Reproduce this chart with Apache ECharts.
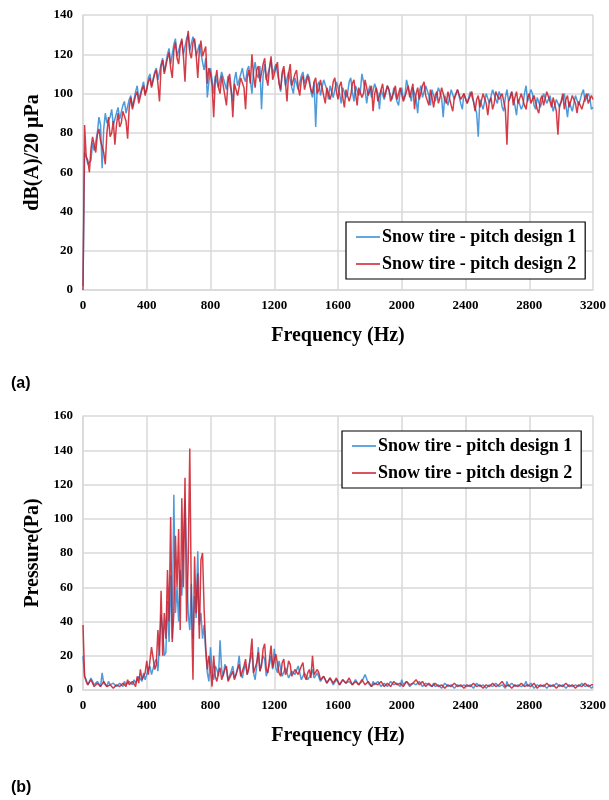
<!DOCTYPE html>
<html>
<head>
<meta charset="utf-8">
<script src="https://cdn.jsdelivr.net/npm/echarts@6/dist/echarts.min.js"></script>
<style>
  html, body { margin: 0; padding: 0; background: #fff; }
  #main { width: 609px; height: 800px; }
</style>
</head>
<body>
<div id="main"></div>
<script>
const freqStep = 10;
const seriesNames = ['Snow tire - pitch design 1', 'Snow tire - pitch design 2'];

// (a) sound level, dB(A)/20 uPa  (one row = 200 Hz)
const splDesign1 = [
  2, 70, 68, 64, 63, 66, 75, 71, 72, 80, 88, 84, 62, 82, 90, 85, 86, 88, 92, 84,
  84, 90, 93, 87, 88, 94, 96, 90, 91, 97, 99, 93, 94, 101, 104, 97, 98, 103, 106, 100,
  102, 108, 110, 104, 105, 111, 113, 107, 108, 115, 118, 111, 112, 120, 123, 115, 116, 125, 128, 119,
  119, 125, 127, 120, 121, 128, 130, 122, 123, 129, 126, 119, 118, 125, 124, 116, 112, 118, 98, 106,
  113, 107, 100, 109, 110, 103, 104, 111, 112, 105, 102, 109, 108, 101, 96, 107, 111, 104, 104, 110,
  113, 108, 106, 112, 114, 107, 100, 111, 116, 110, 108, 114, 92, 109, 115, 107, 106, 113, 117, 110,
  109, 115, 114, 106, 101, 110, 112, 104, 104, 111, 110, 103, 100, 108, 108, 102, 102, 109, 111, 105,
  104, 110, 108, 101, 98, 106, 83, 104, 106, 99, 100, 107, 108, 102, 97, 104, 105, 98, 99, 106,
  107, 100, 95, 103, 104, 98, 100, 106, 108, 101, 96, 104, 105, 99, 101, 110, 109, 102, 95, 101,
  104, 98, 99, 105, 106, 100, 92, 102, 103, 97, 98, 104, 105, 99, 97, 103, 102, 96, 94, 101,
  103, 97, 99, 107, 106, 100, 96, 103, 102, 97, 90, 101, 104, 98, 98, 104, 105, 99, 94, 102,
  101, 96, 97, 103, 104, 98, 88, 99, 100, 94, 95, 102, 103, 97, 97, 102, 101, 95, 92, 100,
  100, 95, 94, 101, 102, 96, 96, 90, 78, 97, 98, 92, 93, 100, 101, 95, 96, 102, 103, 97,
  95, 101, 99, 93, 91, 98, 102, 96, 96, 101, 100, 94, 89, 97, 98, 92, 94, 100, 104, 96,
  96, 102, 100, 94, 92, 98, 99, 93, 94, 100, 101, 95, 95, 99, 98, 91, 90, 97, 97, 93,
  93, 98, 100, 94, 88, 96, 97, 91, 92, 99, 99, 94, 94, 100, 102, 96, 95, 100, 98, 92,
  93
];
const splDesign2 = [
  0, 84, 68, 66, 60, 72, 78, 74, 70, 79, 82, 76, 76, 70, 64, 80, 88, 78, 80, 86,
  74, 84, 90, 83, 85, 91, 92, 86, 77, 93, 98, 92, 93, 99, 101, 95, 96, 102, 104, 99,
  100, 106, 108, 103, 103, 110, 112, 105, 96, 114, 117, 110, 110, 118, 121, 113, 108, 122, 126, 118,
  115, 124, 128, 119, 106, 125, 132, 121, 118, 126, 128, 120, 108, 122, 127, 119, 118, 124, 105, 113,
  110, 104, 88, 107, 112, 103, 100, 109, 108, 99, 94, 106, 110, 102, 88, 105, 106, 99, 100, 108,
  109, 103, 92, 108, 112, 105, 120, 109, 103, 112, 114, 106, 106, 115, 118, 108, 104, 113, 119, 107,
  108, 113, 116, 105, 102, 111, 114, 106, 96, 110, 115, 104, 104, 110, 112, 103, 99, 107, 109, 102,
  103, 109, 110, 102, 100, 106, 108, 100, 102, 107, 106, 99, 95, 103, 104, 97, 100, 106, 108, 101,
  97, 104, 106, 98, 93, 102, 103, 96, 99, 105, 107, 100, 94, 103, 104, 98, 100, 107, 106, 99,
  98, 104, 91, 100, 103, 96, 97, 102, 105, 98, 99, 104, 102, 96, 95, 101, 104, 97, 98, 103,
  102, 96, 96, 101, 104, 98, 99, 105, 92, 100, 103, 97, 97, 104, 106, 99, 100, 94, 102, 98,
  93, 99, 101, 95, 98, 103, 104, 97, 95, 101, 100, 94, 91, 98, 99, 102, 103, 97, 96, 100,
  100, 95, 94, 99, 101, 96, 91, 97, 99, 93, 94, 100, 100, 95, 89, 96, 98, 92, 95, 101,
  102, 97, 96, 100, 100, 92, 74, 96, 98, 101, 94, 98, 101, 95, 95, 100, 99, 94, 92, 98,
  100, 95, 94, 99, 98, 92, 90, 97, 99, 94, 95, 101, 101, 96, 93, 98, 97, 91, 79, 94,
  96, 100, 92, 97, 99, 93, 94, 99, 98, 95, 90, 96, 97, 92, 93, 98, 100, 95, 94, 99,
  97
];

// (b) sound pressure, Pa  (one row = 200 Hz)
const presDesign1 = [
  20, 8, 6, 3, 4, 7, 7, 3, 3, 5, 5, 2, 10, 4, 3, 2, 5, 3, 2, 4,
  4, 2, 2, 4, 3, 2, 5, 3, 2, 5, 4, 3, 6, 4, 3, 8, 7, 5, 10, 6,
  6, 12, 14, 9, 8, 16, 18, 11, 12, 44, 35, 20, 22, 52, 28, 67, 30, 114, 45, 60,
  40, 70, 55, 88, 111, 110, 45, 35, 62, 30, 55, 42, 81, 38, 45, 30, 38, 22, 10, 5,
  25, 10, 6, 14, 12, 8, 29, 12, 8, 15, 12, 6, 5, 11, 14, 7, 9, 13, 20, 9,
  7, 12, 15, 9, 10, 18, 22, 10, 6, 14, 25, 11, 12, 20, 18, 8, 8, 15, 20, 12,
  24, 13, 10, 17, 16, 8, 9, 13, 14, 7, 6, 11, 12, 9, 8, 14, 15, 6, 7, 10,
  11, 6, 5, 9, 12, 7, 6, 10, 9, 5, 4, 8, 8, 4, 5, 7, 7, 3, 3, 6,
  6, 3, 4, 6, 7, 4, 3, 5, 5, 3, 4, 6, 6, 3, 3, 5, 5, 9, 8, 4,
  4, 2, 5, 3, 3, 5, 5, 2, 2, 4, 4, 2, 3, 5, 5, 3, 2, 4, 4, 2,
  6, 3, 3, 5, 4, 2, 2, 4, 5, 3, 3, 5, 4, 2, 2, 4, 5, 3, 3, 2,
  4, 2, 2, 3, 3, 1, 2, 4, 4, 2, 2, 3, 3, 1, 1, 3, 3, 2, 2, 3,
  3, 2, 1, 3, 3, 1, 2, 4, 4, 2, 2, 3, 3, 1, 1, 3, 3, 2, 2, 4,
  4, 2, 2, 3, 3, 1, 5, 2, 2, 4, 3, 2, 2, 3, 4, 2, 2, 3, 5, 2,
  2, 4, 3, 1, 2, 3, 4, 2, 2, 3, 3, 1, 1, 3, 3, 2, 2, 4, 4, 2,
  2, 3, 3, 1, 2, 3, 3, 2, 1, 3, 3, 2, 2, 4, 5, 2, 2, 3, 3, 1,
  2
];
const presDesign2 = [
  38, 8, 5, 3, 3, 6, 6, 2, 2, 4, 4, 2, 3, 5, 5, 2, 2, 3, 3, 1,
  1, 3, 3, 2, 2, 4, 4, 2, 6, 3, 3, 5, 5, 2, 8, 4, 12, 6, 7, 10,
  17, 9, 10, 25, 26, 12, 15, 35, 20, 58, 20, 45, 30, 70, 40, 101, 28, 45, 90, 60,
  94, 35, 112, 60, 124, 40, 75, 141, 50, 6, 78, 45, 68, 30, 76, 80, 47, 25, 12, 20,
  12, 2, 20, 8, 5, 10, 13, 6, 7, 12, 14, 5, 4, 9, 11, 6, 6, 12, 15, 8,
  8, 14, 18, 9, 12, 20, 30, 10, 9, 16, 22, 11, 14, 24, 27, 12, 10, 18, 26, 13,
  13, 21, 22, 10, 8, 16, 18, 9, 11, 17, 15, 8, 7, 12, 13, 9, 9, 14, 16, 8,
  6, 10, 12, 7, 20, 9, 8, 12, 10, 6, 5, 8, 9, 4, 4, 7, 8, 4, 5, 7,
  7, 3, 3, 6, 6, 4, 4, 7, 7, 3, 3, 5, 5, 3, 4, 6, 6, 3, 3, 5,
  5, 2, 2, 4, 4, 3, 3, 5, 5, 2, 2, 4, 4, 2, 3, 5, 5, 3, 3, 4,
  4, 2, 2, 5, 5, 3, 3, 4, 4, 6, 6, 3, 3, 5, 4, 2, 2, 4, 3, 2,
  2, 4, 4, 2, 2, 3, 3, 1, 1, 3, 3, 2, 2, 4, 4, 2, 2, 3, 3, 1,
  1, 3, 3, 2, 2, 4, 4, 2, 2, 3, 3, 1, 1, 3, 3, 2, 2, 4, 4, 2,
  2, 3, 3, 5, 5, 2, 2, 3, 3, 1, 1, 3, 3, 2, 2, 4, 4, 2, 2, 3,
  3, 2, 2, 4, 4, 1, 1, 3, 3, 2, 2, 4, 4, 2, 2, 3, 3, 1, 1, 3,
  3, 2, 2, 4, 4, 2, 2, 3, 3, 1, 1, 3, 3, 2, 2, 4, 4, 2, 2, 3,
  3
];

const blue = '#2f8ad6';
const red = '#cc1b28';
const gridColor = '#d9d9d9';
const serif = '"Liberation Serif", "Times New Roman", serif';
const sans = '"Liberation Sans", Arial, sans-serif';

function toPairs(values) {
  return values.map((v, i) => [i * freqStep, v]);
}

function xAxisFor(gridIndex) {
  return {
    gridIndex: gridIndex,
    type: 'value',
    min: 0,
    max: 3200,
    interval: 400,
    name: 'Frequency (Hz)',
    nameLocation: 'middle',
    nameGap: 36,
    nameTextStyle: { fontFamily: serif, fontWeight: 'bold', fontSize: 20, color: '#000' },
    axisLine: { show: true, lineStyle: { color: gridColor, width: 1.5 } },
    axisTick: { show: false },
    axisLabel: {
      fontFamily: serif, fontWeight: 'bold', fontSize: 13, color: '#000', margin: 9,
      formatter: (v) => String(v),
    },
    splitLine: { show: true, lineStyle: { color: gridColor, width: 1.5 } },
  };
}

function yAxisFor(gridIndex, name, max, interval) {
  return {
    gridIndex: gridIndex,
    type: 'value',
    min: 0,
    max: max,
    interval: interval,
    name: name,
    nameLocation: 'middle',
    nameGap: 29,
    nameTextStyle: { fontFamily: serif, fontWeight: 'bold', fontSize: 20, color: '#000' },
    axisLine: { show: true, lineStyle: { color: gridColor, width: 1.5 } },
    axisTick: { show: false },
    axisLabel: { fontFamily: serif, fontWeight: 'bold', fontSize: 13, color: '#000', margin: 10 },
    splitLine: { show: true, lineStyle: { color: gridColor, width: 1.5 } },
  };
}

function lineSeries(name, values, color, idx) {
  return {
    name: name,
    type: 'line',
    xAxisIndex: idx,
    yAxisIndex: idx,
    data: toPairs(values),
    showSymbol: false,
    symbol: 'none',
    color: color,
    lineStyle: { color: color, width: 1.5, opacity: 0.85 },
  };
}

function legendAt(left, top) {
  return {
    left: left,
    top: top,
    orient: 'vertical',
    data: seriesNames,
    icon: 'rect',
    itemWidth: 24,
    itemHeight: 1.5,
    itemGap: 9,
    padding: [6, 9, 6, 10],
    borderColor: '#000',
    borderWidth: 1.2,
    backgroundColor: '#fff',
    selectedMode: false,
    textStyle: { fontFamily: serif, fontWeight: 'bold', fontSize: 18, color: '#000', padding: [0, 0, 0, -3] },
  };
}

const chart = echarts.init(document.getElementById('main'));
chart.setOption({
  backgroundColor: '#fff',
  animation: false,
  title: [
    { text: '(a)', left: 6, top: 371, textStyle: { fontFamily: sans, fontWeight: 'bold', fontSize: 16, color: '#000' } },
    { text: '(b)', left: 6, top: 775, textStyle: { fontFamily: sans, fontWeight: 'bold', fontSize: 16, color: '#000' } },
  ],
  grid: [
    { left: 83, right: 14, top: 15, height: 275 },
    { left: 83, right: 16, top: 416, height: 274 },
  ],
  legend: [legendAt(346, 222), legendAt(342, 431)],
  xAxis: [xAxisFor(0), xAxisFor(1)],
  yAxis: [
    yAxisFor(0, 'dB(A)/20 μPa', 140, 20),
    yAxisFor(1, 'Pressure(Pa)', 160, 20),
  ],
  series: [
    lineSeries(seriesNames[0], splDesign1, blue, 0),
    lineSeries(seriesNames[1], splDesign2, red, 0),
    lineSeries(seriesNames[0], presDesign1, blue, 1),
    lineSeries(seriesNames[1], presDesign2, red, 1),
  ],
});
</script>
</body>
</html>
